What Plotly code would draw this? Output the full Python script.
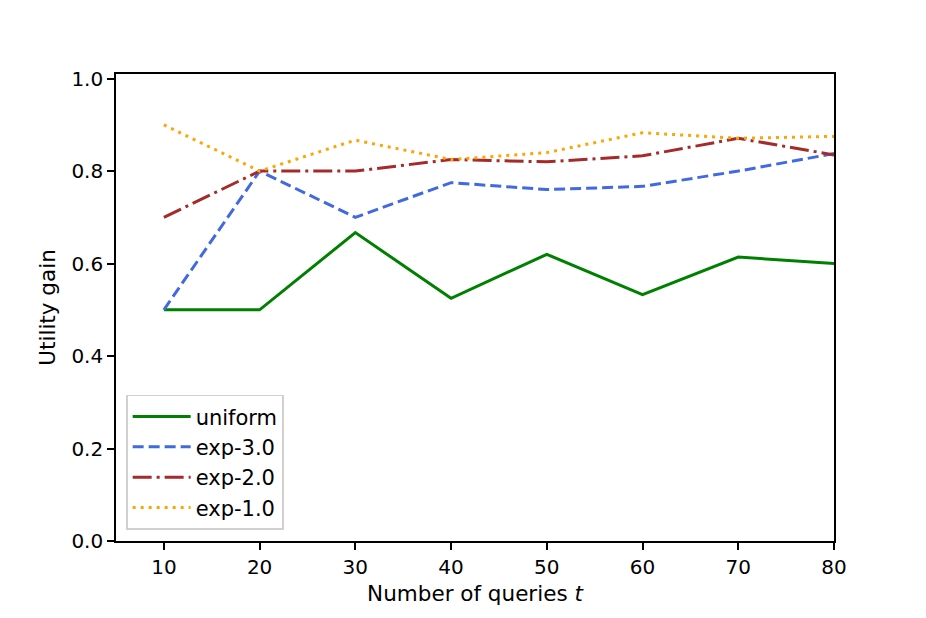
import plotly.graph_objects as go

# number of queries t
queries = [10, 20, 30, 40, 50, 60, 70, 80]

uniform = [0.5, 0.5, 0.667, 0.525, 0.62, 0.533, 0.614, 0.6]
exp_3 = [0.5, 0.8, 0.7, 0.775, 0.76, 0.767, 0.8, 0.838]
exp_2 = [0.7, 0.8, 0.8, 0.825, 0.82, 0.833, 0.871, 0.835]
exp_1 = [0.9, 0.8, 0.867, 0.825, 0.84, 0.883, 0.871, 0.875]

series = [
    ("uniform", uniform, "#008000", "solid"),
    ("exp-3.0", exp_3, "#4169E1", "11px,5px"),
    ("exp-2.0", exp_2, "#A52A2A", "19px,5px,3px,5px"),
    ("exp-1.0", exp_1, "#FFA500", "3px,5px"),
]

fig = go.Figure()
for name, vals, color, dash in series:
    fig.add_trace(go.Scatter(x=queries, y=vals, mode="lines", name=name,
                             line=dict(color=color, width=3, dash=dash)))

axis_common = dict(showline=True, linecolor="black", linewidth=1.6, mirror=True,
                   ticks="outside", ticklen=7, tickwidth=1.6, tickcolor="black",
                   showgrid=False, zeroline=False,
                   tickfont=dict(size=20, color="black"))

# the page body adds an 8px offset, so margins are shifted to compensate
fig.update_layout(
    width=926, height=618,
    margin=dict(l=108, r=100, t=66, b=85),
    plot_bgcolor="white", paper_bgcolor="white",
    font=dict(family="DejaVu Sans", size=20, color="black"),
    xaxis=dict(range=[5, 80], tickvals=queries,
               title=dict(text="Number of queries <i>t</i>", standoff=8,
                          font=dict(size=21.5)), **axis_common),
    yaxis=dict(range=[0, 1.01], tickvals=[0, 0.2, 0.4, 0.6, 0.8, 1.0], tickformat=".1f",
               title=dict(text="Utility gain", standoff=10, font=dict(size=21.5)),
               **axis_common),
    legend=dict(x=0.014, y=0.024, xanchor="left", yanchor="bottom",
                bgcolor="rgba(255,255,255,0.8)", bordercolor="#d0d0d0", borderwidth=1.6,
                font=dict(size=21), tracegroupgap=0, itemwidth=58),
    showlegend=True,
)

fig.write_html("out.html")
